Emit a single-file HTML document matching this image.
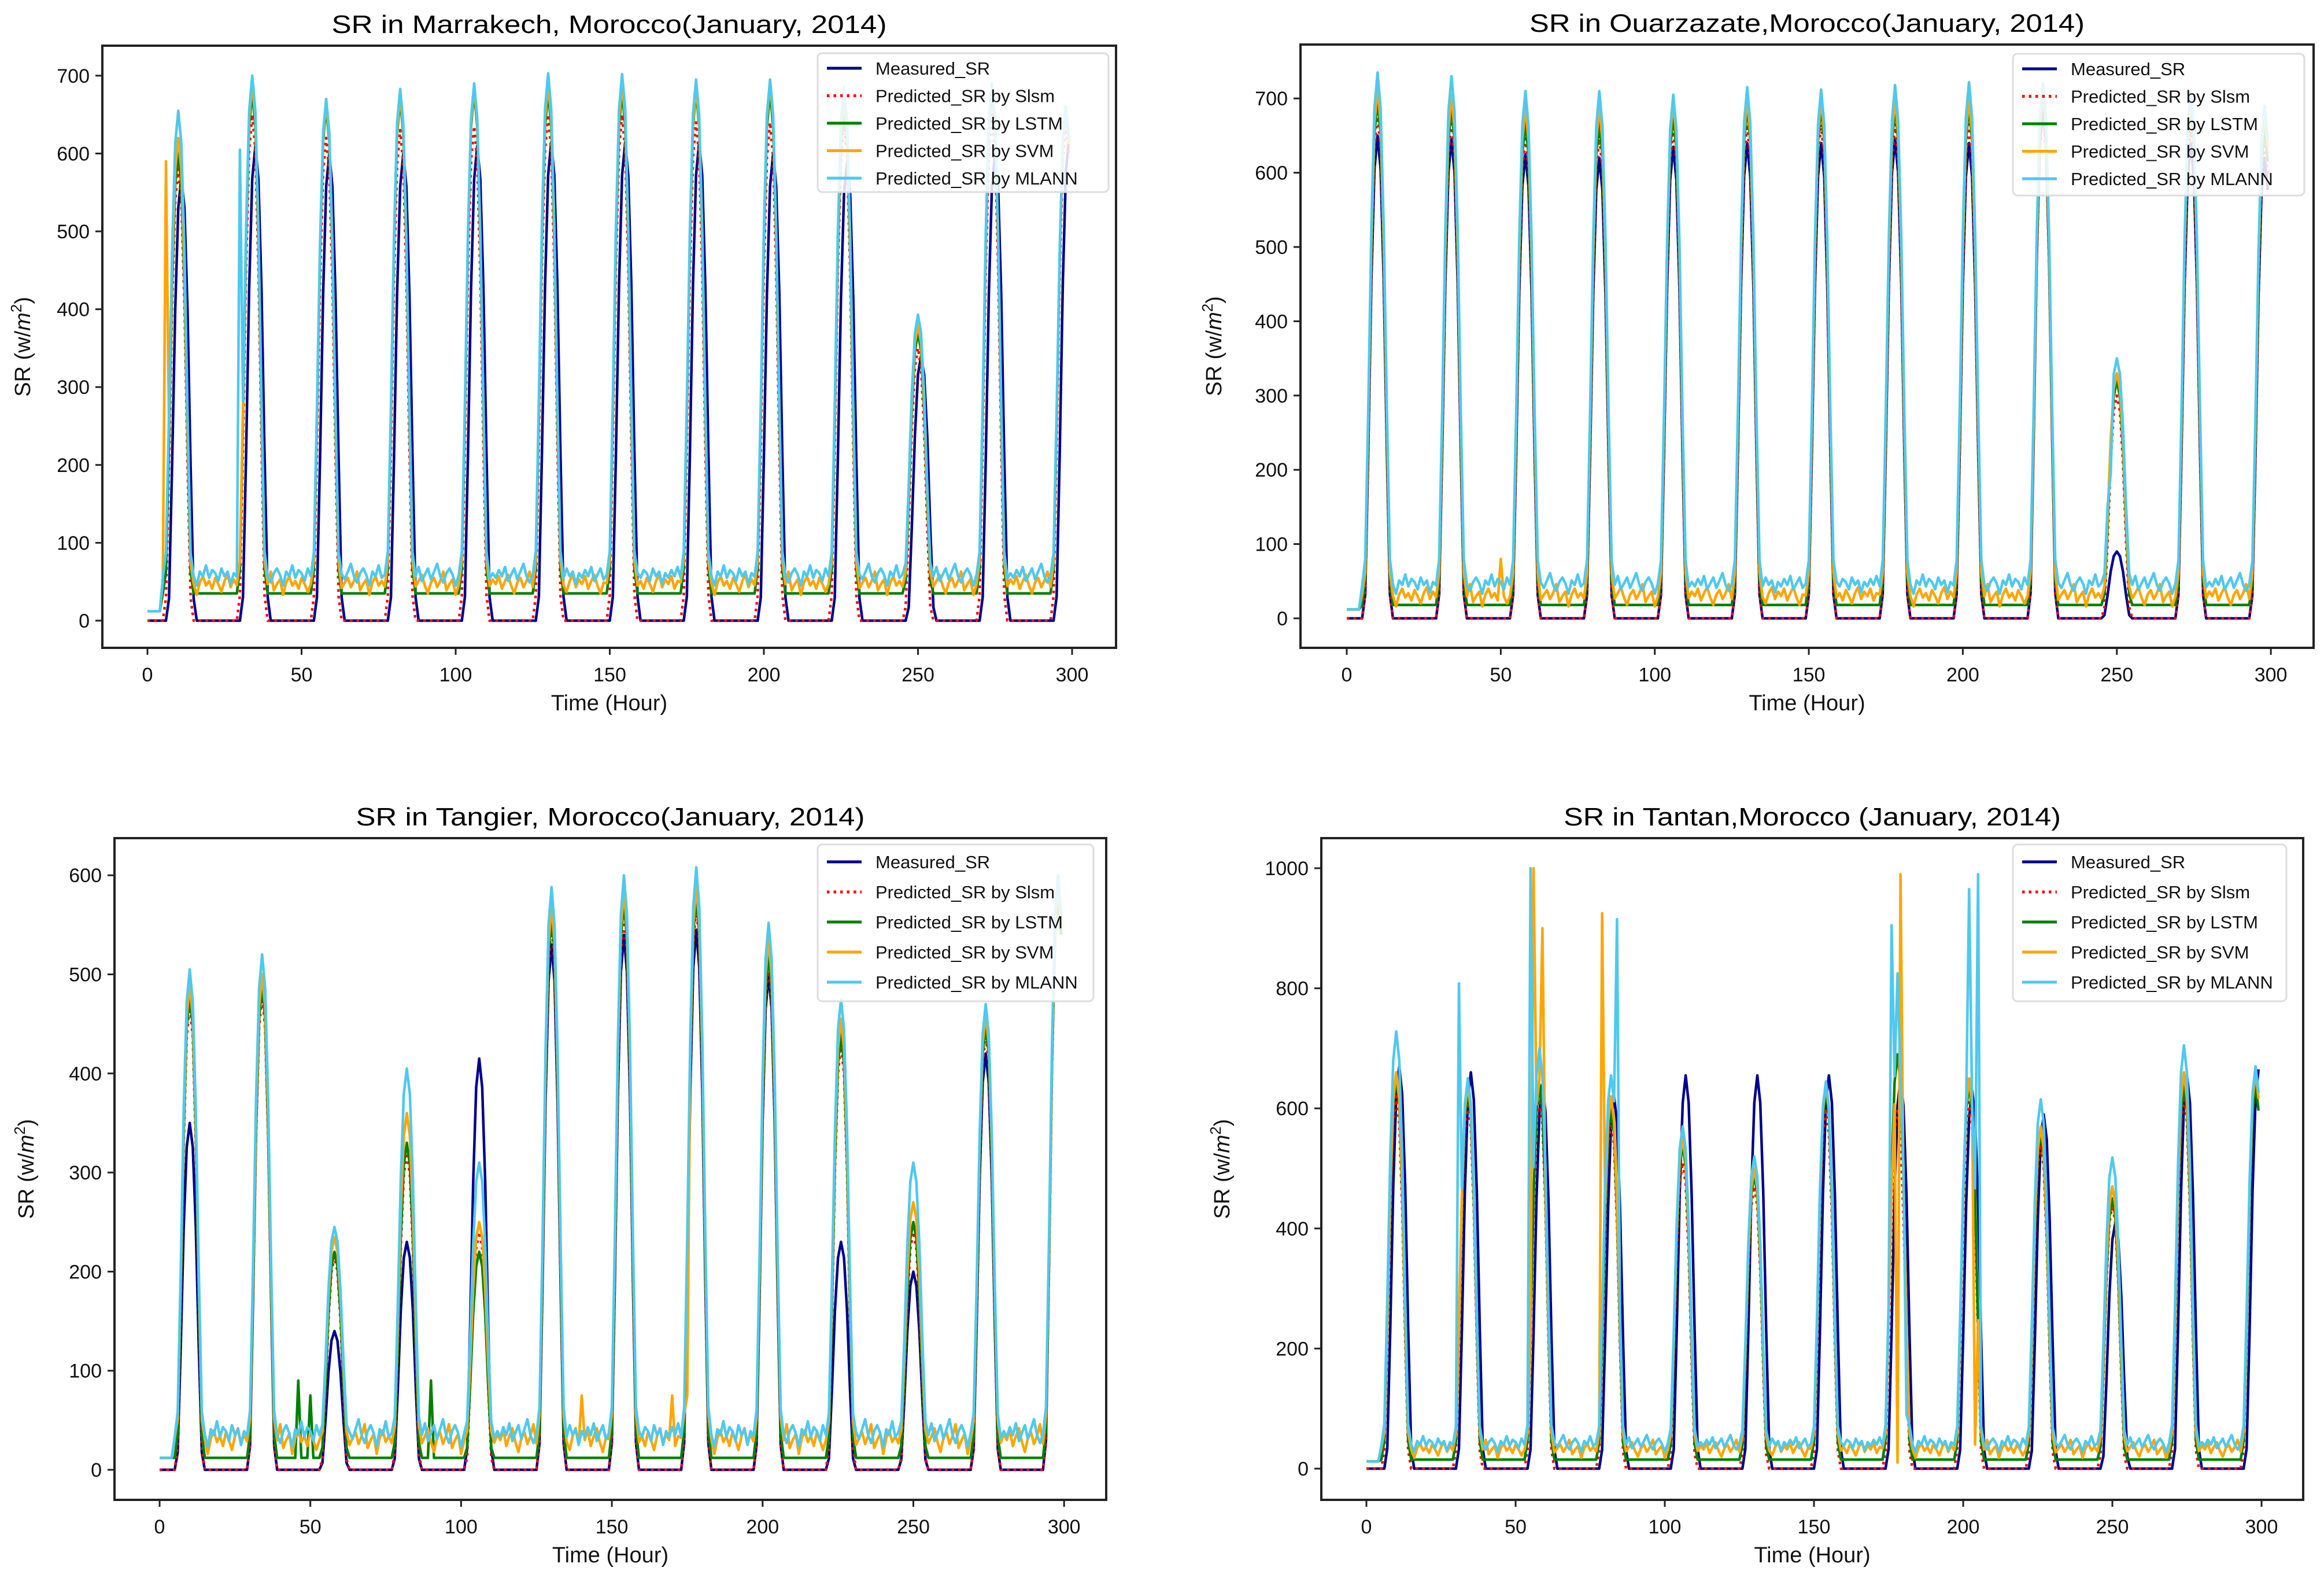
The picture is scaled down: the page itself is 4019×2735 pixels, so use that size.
<!DOCTYPE html>
<html><head><meta charset="utf-8"><style>
html,body{margin:0;padding:0;background:#fff;}
svg{display:block;font-family:"Liberation Sans","DejaVu Sans",sans-serif;}
</style></head><body>
<svg id="fig" width="4019" height="2735" viewBox="0 0 4019 2735" xmlns="http://www.w3.org/2000/svg"></svg>
<script>
// ---------- shared data ----------
const hours = []; for (let i = 0; i < 300; i++) hours.push(i);
const dayPeakHours = [10,34,58,82,106,130,154,178,202,226,250,274,298];
const profile = [0,0.05,0.35,0.7,0.93,1,0.93,0.7,0.35,0.05,0];
const xTicks = [0,50,100,150,200,250,300];
const seriesNames = ["Measured_SR","Predicted_SR by Slsm","Predicted_SR by LSTM","Predicted_SR by SVM","Predicted_SR by MLANN"];
const noiseSVM = [8,2,12,-4,6,14,0,-10,4,10,-2,6,18,-6,2,8,-12,4,12,0,6,-4,10,2,-8,6,14,-2];
const noiseMLANN = [4,-2,8,0,12,-6,2,10,-4,6,16,0,-8,4,10,2,-12,6,0,14,-2,8,4,-6,10,0,6,-10];

// ---------- Marrakech ----------
const mkMeasured = [570,610,600,600,610,615,615,615,600,590,340,600,620];
const mkSlsm = [580,650,620,630,635,650,650,640,640,640,350,650,640];
const mkLSTM = [600,680,660,670,680,680,680,680,680,660,370,680,660];
const mkSVM = [620,690,665,675,685,690,690,685,690,670,380,685,655];
const mkMLANN = [655,700,670,683,690,703,702,695,695,685,393,690,660];
const mkNight = [0,0,35,45,57];
const mkSpikeH = [[],[],[],[6],[30]];
const mkSpikeV = [[],[],[],[590],[605]];
// ---------- Ouarzazate ----------
const ozMeasured = [650,645,625,620,635,640,640,645,640,690,90,640,620];
const ozSlsm = [680,670,650,650,660,665,665,665,665,680,300,660,640];
const ozLSTM = [700,690,670,670,680,690,690,690,690,700,320,690,660];
const ozSVM = [715,705,690,690,695,700,700,700,700,710,330,700,680];
const ozMLANN = [735,730,710,710,705,715,712,718,722,720,350,710,690];
const ozNight = [0,0,18,28,45];
const ozSpikeH = [[],[],[],[50],[248]];
const ozSpikeV = [[],[],[],[80],[195]];
// ---------- Tangier ----------
const tgMeasured = [350,490,140,230,415,530,540,545,500,230,200,420,600];
const tgSlsm = [470,480,215,320,240,550,560,570,510,430,240,440,580];
const tgLSTM = [480,490,220,330,220,560,575,580,520,440,250,450,580];
const tgSVM = [490,500,235,360,250,570,585,590,535,455,270,460,590];
const tgMLANN = [505,520,245,405,310,588,600,608,552,475,310,470,600];
const tgNight = [0,0,12,28,35];
const tgSpikeH = [[],[],[46,50,90],[140,170,175],[]];
const tgSpikeV = [[],[],[90,75,90],[75,75,75],[]];
// ---------- Tantan ----------
const ttMeasured = [670,660,640,620,655,655,655,650,630,590,410,655,665];
const ttSlsm = [620,610,620,580,510,470,600,600,610,540,440,620,640];
const ttLSTM = [650,630,640,600,540,490,630,690,640,560,450,640,640];
const ttSVM = [660,640,650,620,550,500,640,650,650,570,470,660,660];
const ttMLANN = [728,650,700,655,570,520,645,700,650,615,518,705,670];
const ttNight = [0,0,15,30,40];
const ttSpikeH = [[],[],[],[56,59,79,178,179,204],[31,55,84,176,178,181,202,205]];
const ttSpikeV = [[],[],[],[1000,900,925,10,990,40],[808,1000,915,905,825,90,965,990]];

const colors = ["#00008B","#FF0000","#008000","#FFA500","#4FC8EE"];

function buildSeries(peaks, night, shift, noise, spH, spV){
  const out = [];
  for (const h of hours){
    let k = Math.round((h - dayPeakHours[0]) / 24);
    k = Math.max(0, Math.min(dayPeakHours.length-1, k));
    const off = h - dayPeakHours[k] - shift;
    let v;
    if (Math.abs(off) <= 5){
      const p = profile[off+5];
      v = night*(1-p) + peaks[k]*p;
      if (Math.abs(off) === 5 && noise) v += noise[h % noise.length]*0.3;
    } else {
      v = night + (noise && night>0 ? noise[h % noise.length] : 0);
      if (h < 5) v = night>0 ? Math.min(night, 12) : 0;
    }
    out.push(Math.max(0,v));
  }
  for (let i=0;i<spH.length;i++){ out[spH[i]] = spV[i]; }
  return out;
}

const NS = "http://www.w3.org/2000/svg";
const fig = document.getElementById("fig");
function el(tag, attrs, parent){
  const e = document.createElementNS(NS, tag);
  for (const k in attrs) e.setAttribute(k, attrs[k]);
  (parent||fig).appendChild(e);
  return e;
}

function drawPlot(cfg){
  const g = el("g", {});
  
  
  const xs = v => cfg.x0 + v*cfg.xs;
  const ys = v => cfg.y0 - v*cfg.ys;
  const t = el("text", {x:(cfg.L+cfg.R)/2, y:cfg.T-22, "text-anchor":"middle", "font-size":44, fill:"#000", textLength:cfg.titleLen, lengthAdjust:"spacingAndGlyphs"}, g);
  t.textContent = cfg.title;
  
  
  const sets = [cfg.m, cfg.s, cfg.l, cfg.v, cfg.a];
  const noises = [null, null, null, noiseSVM, noiseMLANN];
  const clip = el("clipPath", {id:"clip-"+cfg.name}, g);
  el("rect", {x:cfg.L, y:cfg.T, width:cfg.R-cfg.L, height:cfg.B-cfg.T}, clip);
  const sg = el("g", {"clip-path":"url(#clip-"+cfg.name+")"}, g);
  const seriesKeys = ["measured-line","slsm-line","lstm-line","svm-line","mlann-line"];
  for (let si=0; si<5; si++){
    const shift = si===0 ? cfg.mShift : 0;
    const vals = buildSeries(sets[si], cfg.night[si], shift, noises[si], cfg.spH[si], cfg.spV[si]);
    let d = "";
    vals.forEach((v,i)=>{ d += (i?"L":"M") + xs(hours[i]).toFixed(1) + "," + ys(v).toFixed(1); });
    const p = el("path", {d:d, fill:"none", stroke:colors[si], "stroke-width":4.5, "stroke-linejoin":"round"}, sg);
    if (si===1){ p.setAttribute("stroke-dasharray","4.5 7"); p.setAttribute("stroke-linecap","butt"); }
    
    
  }
  const fr = el("rect", {x:cfg.L, y:cfg.T, width:cfg.R-cfg.L, height:cfg.B-cfg.T, fill:"none", stroke:"#222", "stroke-width":4}, g);
  
  
  for (const tv of xTicks){
    const x = xs(tv);
    el("line", {x1:x, x2:x, y1:cfg.B, y2:cfg.B+12, stroke:"#222", "stroke-width":3}, g);
    const tl = el("text", {x:x, y:cfg.B+58, "text-anchor":"middle", "font-size":34, fill:"#111"}, g);
    tl.textContent = tv;
    
    
  }
  for (const tv of cfg.yTicks){
    const y = ys(tv);
    el("line", {x1:cfg.L-12, x2:cfg.L, y1:y, y2:y, stroke:"#222", "stroke-width":3}, g);
    const tl = el("text", {x:cfg.L-22, y:y+12, "text-anchor":"end", "font-size":34, fill:"#111"}, g);
    tl.textContent = tv;
    
    
  }
  const xl = el("text", {x:(cfg.L+cfg.R)/2, y:cfg.B+108, "text-anchor":"middle", "font-size":38, fill:"#111"}, g);
  xl.textContent = "Time (Hour)";
  
  
  const yx = cfg.ylabX, yy = (cfg.T+cfg.B)/2;
  const yl = el("text", {x:yx, y:yy, "text-anchor":"middle", "font-size":38, fill:"#111", transform:"rotate(-90 "+yx+" "+yy+")"}, g);
  yl.innerHTML = 'SR (w/<tspan font-style="italic">m</tspan><tspan baseline-shift="super" font-size="26">2</tspan>)';
  
  
  const lg = el("g", {}, g);
  
  
  el("rect", {x:cfg.lgX, y:cfg.lgY, width:cfg.lgW, height:cfg.lgH, rx:8, fill:"#fff", "fill-opacity":0.85, stroke:"#ddd", "stroke-width":3}, lg);
  for (let si=0; si<5; si++){
    const yy2 = cfg.lgY + cfg.lgFirst + si*cfg.lgStep;
    const ln = el("line", {x1:cfg.lgX+16, x2:cfg.lgX+76, y1:yy2, y2:yy2, stroke:colors[si], "stroke-width":5}, lg);
    if (si===1) ln.setAttribute("stroke-dasharray","4.5 7");
    const tx = el("text", {x:cfg.lgX+100, y:yy2+11, "font-size":31, fill:"#111"}, lg);
    tx.textContent = seriesNames[si];
    
    
  }
}

drawPlot({name:"marrakech-chart", title:"SR in Marrakech, Morocco(January, 2014)", titleLen:960,
  L:177,R:1930,T:79,B:1120, x0:255, xs:5.33, y0:1073, ys:1.346, yTicks:[0,100,200,300,400,500,600,700],
  m:mkMeasured,s:mkSlsm,l:mkLSTM,v:mkSVM,a:mkMLANN, night:mkNight, spH:mkSpikeH, spV:mkSpikeV, mShift:1,
  ylabX:52, lgX:1414,lgY:92,lgW:503,lgH:240,lgFirst:26,lgStep:47.5});
drawPlot({name:"ouarzazate-chart", title:"SR in Ouarzazate,Morocco(January, 2014)", titleLen:960,
  L:2249,R:4001,T:77,B:1120, x0:2329, xs:5.327, y0:1069, ys:1.284, yTicks:[0,100,200,300,400,500,600,700],
  m:ozMeasured,s:ozSlsm,l:ozLSTM,v:ozSVM,a:ozMLANN, night:ozNight, spH:ozSpikeH, spV:ozSpikeV, mShift:0,
  ylabX:2112, lgX:3481,lgY:93,lgW:504,lgH:245,lgFirst:26,lgStep:47.5});
drawPlot({name:"tangier-chart", title:"SR in Tangier, Morocco(January, 2014)", titleLen:880,
  L:198,R:1913,T:1449,B:2593, x0:276, xs:5.214, y0:2541, ys:1.713, yTicks:[0,100,200,300,400,500,600],
  m:tgMeasured,s:tgSlsm,l:tgLSTM,v:tgSVM,a:tgMLANN, night:tgNight, spH:tgSpikeH, spV:tgSpikeV, mShift:0,
  ylabX:58, lgX:1414,lgY:1460,lgW:477,lgH:271,lgFirst:30,lgStep:52});
drawPlot({name:"tantan-chart", title:"SR in Tantan,Morocco (January, 2014)", titleLen:860,
  L:2285,R:3983,T:1449,B:2593, x0:2363, xs:5.16, y0:2539, ys:1.038, yTicks:[0,200,400,600,800,1000],
  m:ttMeasured,s:ttSlsm,l:ttLSTM,v:ttSVM,a:ttMLANN, night:ttNight, spH:ttSpikeH, spV:ttSpikeV, mShift:1,
  ylabX:2126, lgX:3481,lgY:1460,lgW:473,lgH:271,lgFirst:30,lgStep:52});
</script>
</body></html>
